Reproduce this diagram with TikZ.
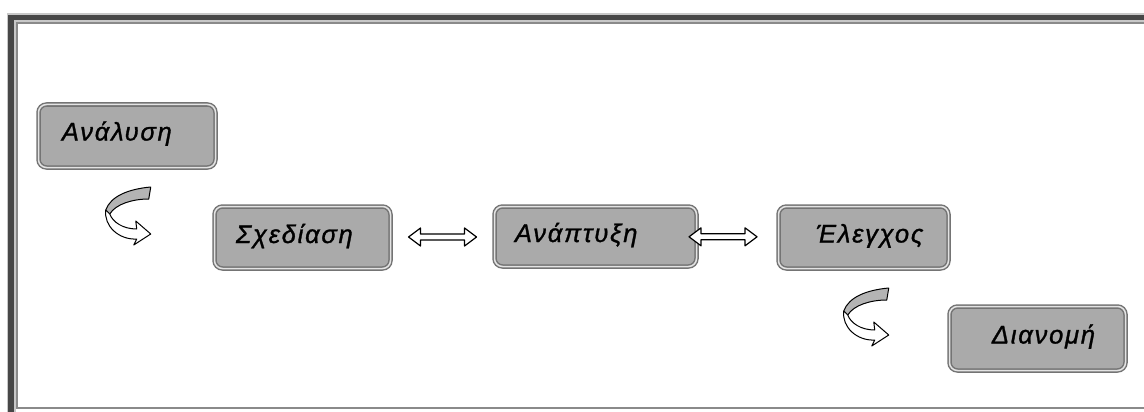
\documentclass[tikz,border=0pt]{standalone}
\usepackage{fontspec}
\setmainfont{Liberation Sans}
\newfontfamily\stagefont[LetterSpace=7,FakeBold=1.2]{Liberation Sans Italic}
\usetikzlibrary{calc}
\definecolor{boxfill}{HTML}{AAAAAA}
\definecolor{boxline}{HTML}{747474}
\definecolor{framedark}{HTML}{474747}
\definecolor{framehalo}{HTML}{C8C8C8}
\definecolor{frameline}{HTML}{8A8A8A}
\definecolor{ribbon}{HTML}{B4B4B4}

\begin{document}
\begin{tikzpicture}[x=1pt,y=-1pt,
  stage/.style={draw=boxline, double=white!80!boxline, double distance=1.5pt,
    line width=1.5pt, fill=boxfill, rounded corners=8pt, inner sep=0pt},
  stagetext/.style={anchor=base west, inner sep=0pt,
    font=\stagefont\fontsize{25.5}{29}\selectfont},
  outline/.style={draw=black, line width=1pt, line join=round},
  dblarr/.pic={
    \path[outline, line width=1.2pt, fill=white] (-34,0) -- (-22,-9) -- (-22,-3) -- (22,-3)
      -- (22,-9) -- (34,0) -- (22,9) -- (22,3) -- (-22,3) -- (-22,9) -- cycle;
  },
  turnarr/.pic={
    % back side of the ribbon
    \path[outline, fill=ribbon] (0,-47) .. controls (-22,-45) and (-40,-38) .. (-45,-24)
      -- (-41,-20) .. controls (-35,-30) and (-18,-35) .. (-2,-35) -- cycle;
    % front side with the head
    \path[outline, fill=white] (-45,-24) .. controls (-47,-8) and (-32,6) .. (-14,5)
      -- (-17,11) -- (0,0) -- (-15,-13) -- (-14,-5)
      .. controls (-28,-5) and (-38,-12) .. (-41,-20) -- cycle;
  }
]
\useasboundingbox (0,0) rectangle (1144,412);
\clip (0,0) rectangle (1144,412);
\fill[white] (0,0) rectangle (1144,412);

% frame
\draw[framehalo, line width=9pt] (11,430) -- (11,17.5) -- (1160,17.5);
\draw[framedark, line width=5.5pt] (11,430) -- (11,17.5) -- (1160,17.5);
\draw[frameline, line width=1.8pt] (1160,23) -- (17,23) -- (17,408) -- (1160,408);

% stages
\node[stage, minimum width=177pt, minimum height=63pt] (a) at (127,136) {};
\node[stage, minimum width=176pt, minimum height=62pt] (s) at (302.5,237.5) {};
\node[stage, minimum width=202pt, minimum height=60pt] (p) at (595.5,236.5) {};
\node[stage, minimum width=170pt, minimum height=62pt] (e) at (863.5,237.5) {};
\node[stage, minimum width=176pt, minimum height=64pt] (d) at (1037.5,338.5) {};

\node[stagetext] (ta) at ($(a.west)+(24,4.5)$) {Ανάλυση};
\node[stagetext] (ts) at ($(s.west)+(22,5.5)$) {Σχεδίαση};
\node[stagetext] (tp) at ($(p.west)+(21,5.5)$) {Ανάπτυξη};
\node[stagetext] (te) at ($(e.west)+(38,5)$) {Έλεγχος};
\node[stagetext] (td) at ($(d.west)+(43,5)$) {Διανομή};

% links between stages
\pic at ($(s.east)!0.5!(p.west)$) {dblarr};
\pic at ($(p.east)!0.32!(e.west)$) {dblarr};
\pic at ($(s.west)+(-63,-3.5)$) {turnarr};
\pic at ($(d.west)+(-60,-3.5)$) {turnarr};
\end{tikzpicture}
\end{document}
